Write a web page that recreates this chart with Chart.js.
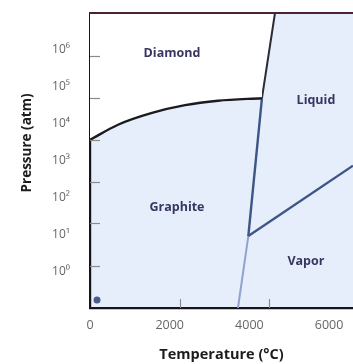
<!DOCTYPE html>
<html>
<head>
<meta charset="utf-8">
<script src="https://cdn.jsdelivr.net/npm/chart.js@4"></script>
<style>
  body { margin: 0; background: #fff; }
  #wrap { width: 353px; height: 364px; }
</style>
</head>
<body>
<div id="wrap"><canvas id="myChart"></canvas></div>
<script>
// phase boundaries: temperature (°C) and log10 of pressure (atm)
const diamondGraphiteT = [0, 703, 1556, 2384, 3211, 4315];
const diamondGraphiteLogP = [3.56, 3.97, 4.29, 4.5, 4.62, 4.69];
const diamondLiquidT = [4315, 4642];
const diamondLiquidLogP = [4.69, 7];
const meltingT = [3973, 4315];
const meltingLogP = [0.95, 4.69];
const vaporT = [3973, 6600];
const vaporLogP = [0.95, 2.86];
const sublimationT = [3713, 3973];
const sublimationLogP = [-1, 0.95];
const dotT = [176];
const dotLogP = [-0.78];

const xTickValues = [0, 2000, 4000, 6000];
const yTickValues = [0, 1, 2, 3, 4, 5, 6];
const yTickLabels = ["10⁰", "10¹", "10²", "10³", "10⁴", "10⁵", "10⁶"];
// the little inner tick marks don't line up with the labels in the original
const xTickMarks = [2250, 4500];
const yTickMarks = [0.14, 1.31, 2.42, 3.56, 4.69, 5.83];

const regionNames = ["Diamond", "Graphite", "Liquid", "Vapor"];
const regionT = [2057, 2183, 5670, 5419];
const regionLogP = [5.89, 1.74, 4.64, 0.27];

const toPoints = (xs, ys) => xs.map((x, i) => ({ x: x, y: ys[i] }));

const navy = "#3d5587";
const blueFill = "#e7eefb";

const phasePlugin = {
  id: "phase",
  beforeDraw(chart) {
    const { ctx, chartArea: a } = chart;
    ctx.save();
    ctx.fillStyle = blueFill;
    ctx.fillRect(a.left, a.top, a.right - a.left, a.bottom - a.top);
    ctx.restore();
  },
  afterDraw(chart) {
    const { ctx, chartArea: a, scales } = chart;
    const x = scales.x, y = scales.y;
    ctx.save();
    // inner tick marks
    ctx.strokeStyle = "#8a8a8a";
    ctx.lineWidth = 1.2;
    yTickMarks.forEach((v) => {
      const py = Math.round(y.getPixelForValue(v)) + 0.5;
      ctx.beginPath();
      ctx.moveTo(a.left, py);
      ctx.lineTo(a.left + 10, py);
      ctx.stroke();
    });
    xTickMarks.forEach((v) => {
      const px = Math.round(x.getPixelForValue(v)) + 0.5;
      ctx.beginPath();
      ctx.moveTo(px, a.bottom);
      ctx.lineTo(px, a.bottom - 9);
      ctx.stroke();
    });
    // top frame line
    ctx.strokeStyle = "#4a2434";
    ctx.lineWidth = 2.2;
    ctx.beginPath();
    ctx.moveTo(a.left - 1, a.top);
    ctx.lineTo(a.right, a.top);
    ctx.stroke();
    // region names
    ctx.fillStyle = "#38365f";
    ctx.font = "bold 12.5px 'Open Sans', sans-serif";
    ctx.textAlign = "center";
    ctx.textBaseline = "middle";
    regionNames.forEach((name, i) => {
      ctx.fillText(name, x.getPixelForValue(regionT[i]), y.getPixelForValue(regionLogP[i]));
    });
    ctx.restore();
  },
};

const lineSet = (points, color, width, extra) =>
  Object.assign(
    {
      data: points,
      borderColor: color,
      borderWidth: width,
      pointRadius: 0,
      fill: false,
    },
    extra || {}
  );

var ctx = document.getElementById("myChart").getContext("2d");
var myChart = new Chart(ctx, {
  type: "line",
  data: {
    datasets: [
      lineSet(toPoints(diamondGraphiteT, diamondGraphiteLogP), "#1b1b1f", 2.4, {
        fill: "end",
        backgroundColor: "#ffffff",
        cubicInterpolationMode: "monotone",
      }),
      lineSet(toPoints(diamondLiquidT, diamondLiquidLogP), "#2a2c36", 2, {
        fill: "end",
        backgroundColor: "#ffffff",
      }),
      lineSet(toPoints(meltingT, meltingLogP), navy, 2.4),
      lineSet(toPoints(vaporT, vaporLogP), navy, 2.4),
      lineSet(toPoints(sublimationT, sublimationLogP), "#8fa2d0", 2),
      {
        data: toPoints(dotT, dotLogP),
        showLine: false,
        pointRadius: 3.5,
        pointBackgroundColor: "#4b5b8c",
        pointBorderWidth: 0,
      },
    ],
  },
  options: {
    responsive: true,
    maintainAspectRatio: false,
    animation: false,
    layout: { autoPadding: false, padding: { top: 13, right: 0, bottom: 0, left: 0 } },
    plugins: {
      legend: { display: false },
      tooltip: { enabled: false },
    },
    scales: {
      x: {
        type: "linear",
        min: 0,
        max: 6600,
        afterBuildTicks: (scale) => {
          scale.ticks = xTickValues.map((v) => ({ value: v }));
        },
        afterFit: (scale) => {
          scale.height = 56;
          scale.paddingLeft = 0;
          scale.paddingRight = 0;
        },
        grid: { display: false, drawTicks: false },
        border: { display: true, color: "#151515", width: 2.2 },
        ticks: {
          padding: 10,
          color: "#666",
          font: { family: "'Open Sans', sans-serif", size: 12.5 },
          callback: (v) => String(v),
        },
        title: {
          display: true,
          text: "Temperature (°C)",
          color: "#1c1c1c",
          padding: { top: 0, bottom: 0 },
          font: { family: "'Open Sans', sans-serif", size: 14.5, weight: "bold" },
        },
      },
      y: {
        type: "linear",
        min: -1,
        max: 7,
        afterBuildTicks: (scale) => {
          scale.ticks = yTickValues.map((v) => ({ value: v }));
        },
        afterFit: (scale) => {
          scale.width = 90;
          scale.paddingTop = 0;
          scale.paddingBottom = 0;
        },
        grid: { display: false, drawTicks: false },
        border: { display: true, color: "#151515", width: 2.2 },
        ticks: {
          padding: 20,
          color: "#666",
          font: { family: "'Open Sans', sans-serif", size: 12 },
          callback: (v) => yTickLabels[yTickValues.indexOf(v)],
        },
        title: {
          display: true,
          text: "          Pressure (atm)",
          color: "#1c1c1c",
          padding: { top: 19, bottom: 0 },
          font: { family: "'Open Sans', sans-serif", size: 13.5, weight: "bold" },
        },
      },
    },
  },
  plugins: [phasePlugin],
});
</script>
</body>
</html>
